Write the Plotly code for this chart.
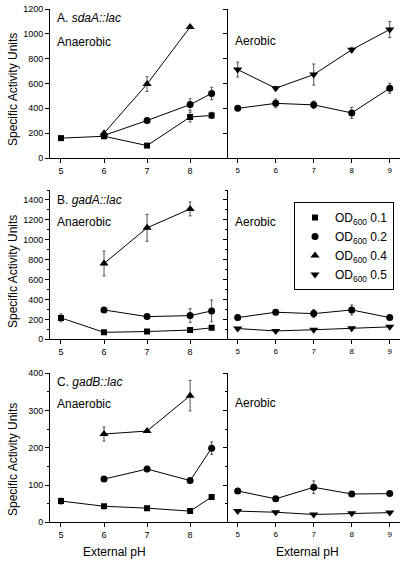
import plotly.graph_objects as go

W, H = 406, 562

ph_anaer = [5, 6, 7, 8, 8.5]
ph_aer = [5, 6, 7, 8, 9]

# Panel A: sdaA::lac
A_an_01 = [160, 175, 100, 330, 343]
A_an_01_err = [10, 15, 10, 40, 25]
A_an_02 = [None, 182, 302, 430, 520]
A_an_02_err = [0, 15, 15, 47, 50]
A_an_04 = [None, 200, 595, 1055, None]
A_an_04_err = [0, 10, 60, 10, 0]
A_ae_02 = [400, 440, 428, 363, 562]
A_ae_02_err = [15, 35, 30, 45, 40]
A_ae_05 = [712, 562, 672, 872, 1035]
A_ae_05_err = [60, 15, 85, 20, 65]

# Panel B: gadA::lac
B_an_01 = [215, 70, 78, 93, 115]
B_an_01_err = [40, 8, 8, 10, 5]
B_an_02 = [None, 295, 228, 238, 285]
B_an_02_err = [0, 10, 15, 70, 110]
B_an_04 = [None, 762, 1120, 1310, None]
B_an_04_err = [0, 125, 135, 70, 0]
B_ae_02 = [218, 272, 258, 295, 218]
B_ae_02_err = [10, 25, 40, 50, 10]
B_ae_05 = [108, 84, 96, 110, 125]
B_ae_05_err = [5, 5, 5, 5, 5]

# Panel C: gadB::lac
C_an_01 = [57, 43, 38, 30, 68]
C_an_01_err = [8, 3, 3, 5, 3]
C_an_02 = [None, 116, 143, 112, 199]
C_an_02_err = [0, 3, 7, 3, 17]
C_an_04 = [None, 237, 245, 340, None]
C_an_04_err = [0, 19, 4, 41, 0]
C_ae_02 = [84, 63, 94, 76, 77]
C_ae_02_err = [3, 3, 17, 4, 3]
C_ae_05 = [30, 27, 21, 24, 26]
C_ae_05_err = [2, 2, 2, 2, 2]

series_names = ["OD<sub>600</sub> 0.1", "OD<sub>600</sub> 0.2",
                "OD<sub>600</sub> 0.4", "OD<sub>600</sub> 0.5"]
symbols = {0: ("square", 6), 1: ("circle", 7), 2: ("triangle-up", 8), 3: ("triangle-down", 8)}

y_ranges = [[0, 1200], [0, 1500], [0, 400]]
y_dtick = [200, 200, 100]
y_minor = [None, 100, 50]
y_ticktop = [1200, 1400, 400]

FONT = "Arial, Liberation Sans, Helvetica, sans-serif"

def px_x(p):
    return p / W

def px_y(p):
    return 1 - p / H

# panel geometry (pixels)
x_left = (50, 228)
x_right = (228, 400)
y_panels = [(9, 158), (190, 339.3), (373.3, 522.3)]

fig = go.Figure()
layout = {}
legend_shown = set()

panels = [
    [(ph_anaer, A_an_01, A_an_01_err, 0), (ph_anaer, A_an_02, A_an_02_err, 1),
     (ph_anaer, A_an_04, A_an_04_err, 2)],
    [(ph_aer, A_ae_02, A_ae_02_err, 1), (ph_aer, A_ae_05, A_ae_05_err, 3)],
    [(ph_anaer, B_an_01, B_an_01_err, 0), (ph_anaer, B_an_02, B_an_02_err, 1),
     (ph_anaer, B_an_04, B_an_04_err, 2)],
    [(ph_aer, B_ae_02, B_ae_02_err, 1), (ph_aer, B_ae_05, B_ae_05_err, 3)],
    [(ph_anaer, C_an_01, C_an_01_err, 0), (ph_anaer, C_an_02, C_an_02_err, 1),
     (ph_anaer, C_an_04, C_an_04_err, 2)],
    [(ph_aer, C_ae_02, C_ae_02_err, 1), (ph_aer, C_ae_05, C_ae_05_err, 3)],
]

for i, plist in enumerate(panels):
    n = i + 1
    row = i // 2
    right = i % 2 == 1
    xs = "x" if n == 1 else f"x{n}"
    ys = "y" if n == 1 else f"y{n}"
    for (xv, yv, ev, s) in plist:
        fig.add_trace(go.Scatter(x=xv, y=yv, xaxis=xs, yaxis=ys, mode="lines",
                                 line=dict(color="black", width=1), showlegend=False,
                                 hoverinfo="skip"))
        sym, sz = symbols[s]
        show = s not in legend_shown
        legend_shown.add(s)
        fig.add_trace(go.Scatter(x=xv, y=yv, xaxis=xs, yaxis=ys, mode="markers",
                                 marker=dict(symbol=sym, size=sz, color="black"),
                                 error_y=dict(type="data", array=ev, color="#555",
                                              thickness=1, width=1.5),
                                 name=series_names[s], legendgroup=str(s),
                                 legendrank=s + 1, showlegend=show))
    xd = x_right if right else x_left
    yd = y_panels[row]
    xkey = "xaxis" if n == 1 else f"xaxis{n}"
    ykey = "yaxis" if n == 1 else f"yaxis{n}"
    common = dict(showline=True, linecolor="black", linewidth=1, ticks="outside",
                  ticklen=4, tickcolor="black", tickwidth=1, showgrid=False,
                  zeroline=False, fixedrange=True, automargin=False)
    if right:
        xrange = [4.745, 9.27]
        xt = [5, 6, 7, 8, 9]
        xfs = 8
    else:
        xrange = [4.745, 8.88]
        xt = [5, 6, 7, 8]
        xfs = 9
    layout[xkey] = dict(common, domain=[px_x(xd[0]), px_x(xd[1])], range=xrange,
                        tickvals=xt, anchor=ys,
                        tickfont=dict(family=FONT, size=xfs, color="black"))
    yvals = list(range(0, y_ticktop[row] + 1, y_dtick[row]))
    ycfg = dict(common, domain=[px_y(yd[1]), px_y(yd[0])], range=y_ranges[row],
                tickvals=yvals, anchor=xs, showticklabels=not right,
                tickfont=dict(family=FONT, size=9, color="black"))
    if y_minor[row]:
        ycfg["minor"] = dict(dtick=y_minor[row], ticks="outside", ticklen=2,
                             tickcolor="black")
    layout[ykey] = ycfg

annotations = []
def ann(text, x, y, size=12, angle=0, xanchor="left"):
    annotations.append(dict(text=text, x=px_x(x), y=px_y(y), xref="paper", yref="paper",
                            showarrow=False, xanchor=xanchor, yanchor="middle",
                            textangle=angle,
                            font=dict(family=FONT, size=size, color="black")))

titles = ["A. <i>sdaA::lac</i>", "B. <i>gadA::lac</i>", "C. <i>gadB::lac</i>"]
title_y = [18, 200, 382]
anaer_y = [42, 222, 404]
aer_y = [41, 222, 403]
ylab_y = [90, 272, 460]
for r in range(3):
    ann(titles[r], 55, title_y[r])
    ann("Anaerobic", 55, anaer_y[r])
    ann("Aerobic", 233, aer_y[r])
    ann("Specific Activity Units", 13, ylab_y[r], size=12, angle=-90, xanchor="center")
ann("External pH", 114, 552, xanchor="center")
ann("External pH", 307, 552, xanchor="center")

fig.update_layout(
    width=W, height=H, margin=dict(l=0, r=0, t=0, b=0, autoexpand=False),
    paper_bgcolor="white", plot_bgcolor="white",
    showlegend=True,
    legend=dict(x=px_x(294), y=px_y(202), xanchor="left", yanchor="top",
                bordercolor="black", borderwidth=1, bgcolor="white",
                font=dict(family=FONT, size=12, color="black"),
                tracegroupgap=0, itemwidth=30),
    annotations=annotations,
    **layout,
)

fig.write_html("out.html", config={"displayModeBar": False},
               post_script="document.body.style.margin='0';document.body.style.overflow='hidden';")
